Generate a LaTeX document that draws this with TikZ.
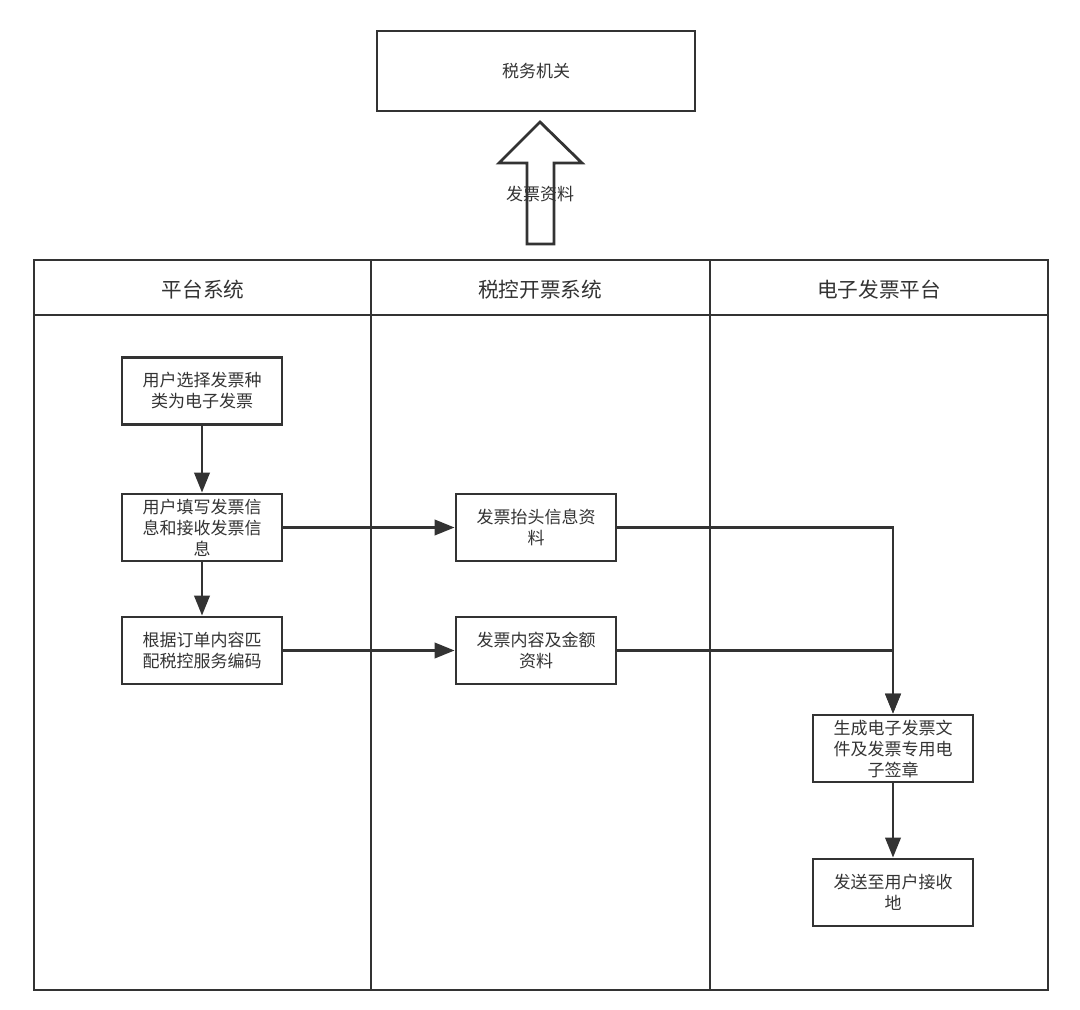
\documentclass[tikz,border=0pt]{standalone}
\usepackage{fontspec}
\setmainfont{Noto Sans CJK SC}
\usetikzlibrary{arrows.meta}
\definecolor{ln}{HTML}{333333}
\begin{document}
\begin{tikzpicture}[x=0.75pt,y=-0.75pt,
  line/.style={draw=ln,line width=2.1pt},
  txt/.style={text=ln,font=\fontsize{12.75}{15.75}\selectfont,align=center,inner sep=0pt},
  hdr/.style={text=ln,font=\fontsize{15.5}{18}\selectfont,inner sep=0pt},
  box/.style={line,txt,rectangle,minimum width=120pt,minimum height=50.25pt},
  arr/.style={line,-{Triangle[length=15pt,width=11.5pt]}}]
\useasboundingbox (0,0) rectangle (1080,1009);
% top box
\node[line,txt,rectangle,minimum width=238.5pt,minimum height=60pt] (tax) at (536,71) {税务机关};
% block arrow
\draw[line,line join=miter] (527,244) -- (527,163) -- (499,163) -- (540,122) -- (582,163) -- (554,163) -- (554,244) -- cycle;
\node[txt] (lbl) at (540,194) {发票资料};
% pool
\draw[line] (34,260) rectangle (1048,990);
\draw[line] (34,315) -- (1048,315);
\draw[line] (371,260) -- (371,990);
\draw[line] (710,260) -- (710,990);
\node[hdr] (h1) at (203,290) {平台系统};
\node[hdr] (h2) at (540,290) {税控开票系统};
\node[hdr] (h3) at (879,290) {电子发票平台};
% boxes
\node[box] (b1) at (202,391) {用户选择发票种\\类为电子发票};
\node[box] (b2) at (202,527.5) {用户填写发票信\\息和接收发票信\\息};
\node[box] (b3) at (202,650.5) {根据订单内容匹\\配税控服务编码};
\node[box] (b4) at (536,527.5) {发票抬头信息资\\料};
\node[box] (b5) at (536,650.5) {发票内容及金额\\资料};
\node[box] (b6) at (893,748.5) {生成电子发票文\\件及发票专用电\\子签章};
\node[box] (b7) at (893,892.5) {发送至用户接收\\地};
% connectors
\draw[arr] (b1) -- (b2);
\draw[arr] (b2) -- (b3);
\draw[arr] (b2) -- (b4);
\draw[arr] (b3) -- (b5);
\draw[arr] (b4.east) -| (b6.north);
\draw[arr] (b5.east) -| (b6.north);
\draw[arr] (b6) -- (b7);
\end{tikzpicture}
\end{document}
